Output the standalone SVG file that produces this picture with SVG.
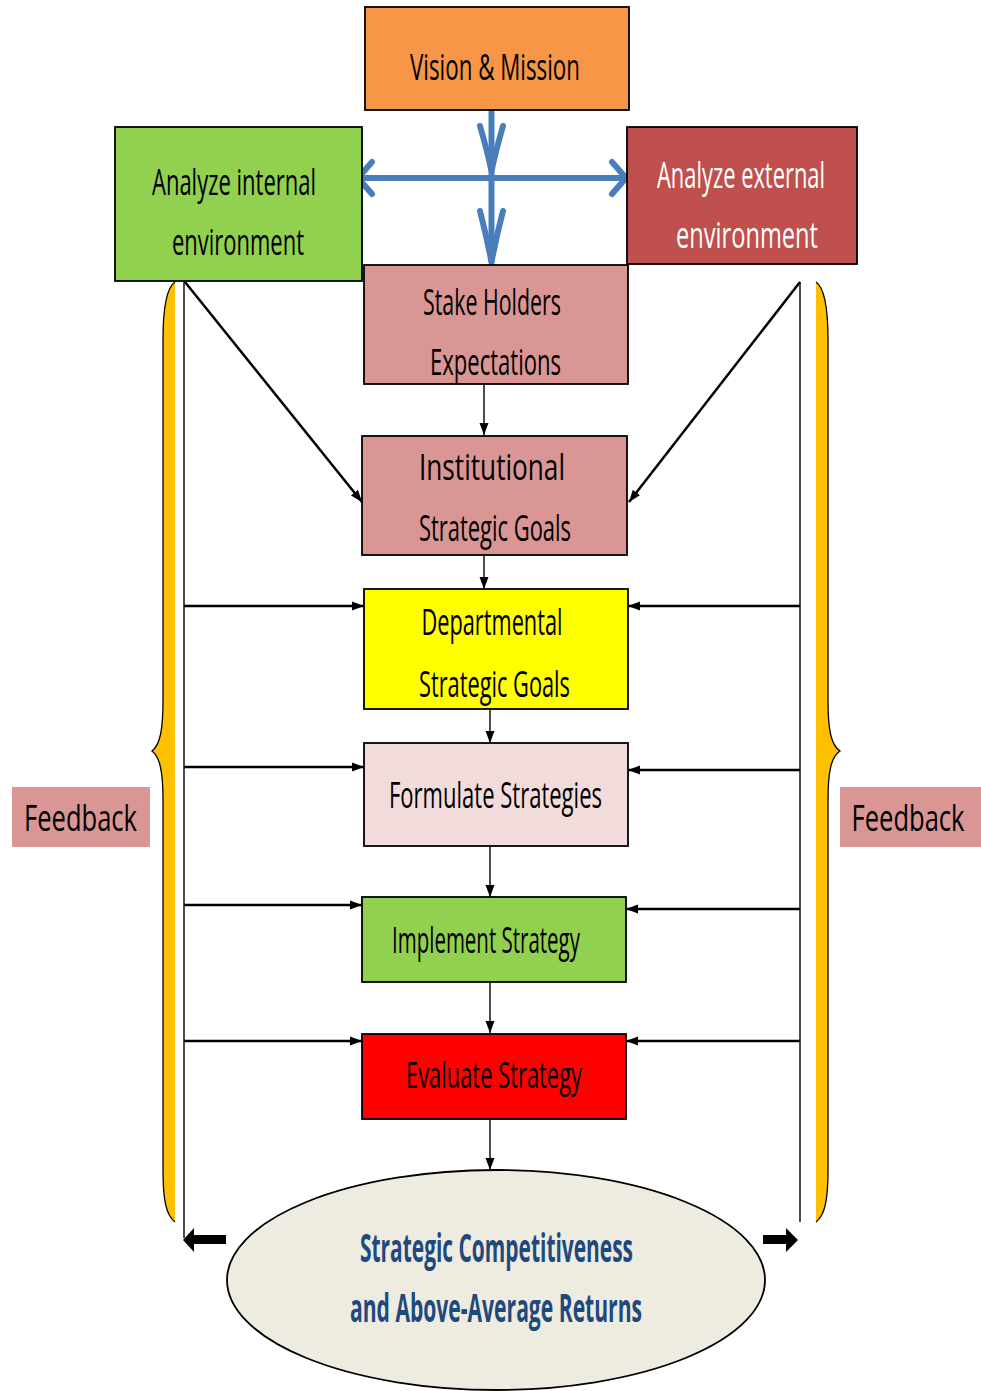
<svg xmlns="http://www.w3.org/2000/svg" width="981" height="1391" viewBox="0 0 981 1391">
<style>
.box{stroke:#000;stroke-width:1.8}
.t{font-family:"Open Sans","Liberation Sans",sans-serif;font-size:37px;fill:#000;text-anchor:middle}
.w{fill:#fff}
.b{font-weight:bold;fill:#1F497D;font-size:40px}
.c{stroke:#000;stroke-width:1.4;fill:none}
.h{stroke:#000;stroke-width:2.5;fill:none}
.blue{stroke:#4A7EBB;stroke-width:6;fill:none;stroke-linecap:round;stroke-linejoin:round}
</style>
<defs>
<marker id="ah" markerUnits="userSpaceOnUse" markerWidth="12" markerHeight="12" viewBox="0 0 12 12" refX="12" refY="6" orient="auto">
<path d="M0,1.5 L12,6 L0,10.5 Z" fill="#000"/>
</marker>
</defs>
<g id="brace-left">
<path d="M175,282 C166,288 163,310 163,340 L163,700 C163,730 160,745 152,751 C160,757 163,772 163,800 L163,1170 C163,1200 166,1215 175,1222 Z" fill="#FFC000"/>
<path d="M175,282 C166,288 163,310 163,340 L163,700 C163,730 160,745 152,751 C160,757 163,772 163,800 L163,1170 C163,1200 166,1215 175,1222" fill="none" stroke="#000" stroke-width="1.3"/>
</g>
<g id="brace-right">
<path d="M816,282 C825,288 828,310 828,340 L828,700 C828,730 831,745 840,751 C831,757 828,772 828,800 L828,1170 C828,1200 825,1215 816,1222 Z" fill="#FFC000"/>
<path d="M816,282 C825,288 828,310 828,340 L828,700 C828,730 831,745 840,751 C831,757 828,772 828,800 L828,1170 C828,1200 825,1215 816,1222" fill="none" stroke="#000" stroke-width="1.3"/>
</g>
<g id="connectors">
<line x1="184" y1="282" x2="184" y2="1238" class="c"/>
<line x1="800" y1="282" x2="800" y2="1222" class="c"/>
<line x1="185" y1="282" x2="362" y2="502" class="h" stroke-width="2" marker-end="url(#ah)"/>
<line x1="800" y1="282" x2="629" y2="502" class="h" stroke-width="2" marker-end="url(#ah)"/>
<line x1="484" y1="384" x2="484" y2="435" class="c" marker-end="url(#ah)"/>
<line x1="484" y1="555" x2="484" y2="589" class="c" marker-end="url(#ah)"/>
<line x1="490" y1="709" x2="490" y2="743" class="c" marker-end="url(#ah)"/>
<line x1="490" y1="846" x2="490" y2="897" class="c" marker-end="url(#ah)"/>
<line x1="490" y1="982" x2="490" y2="1033" class="c" marker-end="url(#ah)"/>
<line x1="490" y1="1119" x2="490" y2="1170" class="c" marker-end="url(#ah)"/>
<line x1="184" y1="606" x2="364" y2="606" class="h" marker-end="url(#ah)"/>
<line x1="184" y1="767" x2="364" y2="767" class="h" marker-end="url(#ah)"/>
<line x1="184" y1="905" x2="362" y2="905" class="h" marker-end="url(#ah)"/>
<line x1="184" y1="1041" x2="362" y2="1041" class="h" marker-end="url(#ah)"/>
<line x1="800" y1="606" x2="628" y2="606" class="h" marker-end="url(#ah)"/>
<line x1="800" y1="770" x2="628" y2="770" class="h" marker-end="url(#ah)"/>
<line x1="800" y1="909" x2="626" y2="909" class="h" marker-end="url(#ah)"/>
<line x1="800" y1="1041" x2="626" y2="1041" class="h" marker-end="url(#ah)"/>
<polygon points="226,1235 194,1235 194,1228 183,1240 194,1252 194,1244 226,1244" fill="#000"/>
<polygon points="763,1235 786,1235 786,1228 798,1240 786,1252 786,1244 763,1244" fill="#000"/>
<line x1="491.5" y1="110" x2="491.5" y2="262" class="blue"/>
<line x1="358" y1="178" x2="626" y2="178" class="blue"/>
<path d="M480,126 Q487,150 491.5,171 Q496,150 503,126" class="blue"/>
<path d="M480,211 Q487,238 491.5,262 Q496,238 503,211" class="blue"/>
<path d="M372,162 L358,178 L372,194" class="blue"/>
<path d="M612,162 L626,178 L612,194" class="blue"/>
</g>
<g id="vision">
<rect x="365" y="7" width="264" height="103" fill="#F79646" class="box"/>
<text x="495" y="80" class="t" font-size="39" textLength="170" lengthAdjust="spacingAndGlyphs">Vision &amp; Mission</text>
</g>
<g id="internal">
<rect x="115" y="127" width="247" height="154" fill="#92D050" class="box"/>
<text x="234" y="195" class="t" font-size="39" textLength="164" lengthAdjust="spacingAndGlyphs">Analyze internal</text>
<text x="238" y="255" class="t" font-size="39" textLength="132" lengthAdjust="spacingAndGlyphs">environment</text>
</g>
<g id="external">
<rect x="627" y="127" width="230" height="137" fill="#C0504D" class="box"/>
<text x="741" y="188" class="t w" font-size="39" textLength="168" lengthAdjust="spacingAndGlyphs">Analyze external</text>
<text x="747" y="248" class="t w" font-size="39" textLength="142" lengthAdjust="spacingAndGlyphs">environment</text>
</g>
<g id="stakeholders">
<rect x="364" y="265" width="264" height="119" fill="#D99694" class="box"/>
<text x="492" y="315" class="t" textLength="138" lengthAdjust="spacingAndGlyphs">Stake Holders</text>
<text x="495.5" y="375" class="t" textLength="131" lengthAdjust="spacingAndGlyphs">Expectations</text>
</g>
<g id="institutional">
<rect x="362" y="436" width="265" height="119" fill="#D99694" class="box"/>
<text x="492" y="480" class="t" font-size="40" textLength="146" lengthAdjust="spacingAndGlyphs">Institutional</text>
<text x="495" y="541" class="t" textLength="152" lengthAdjust="spacingAndGlyphs">Strategic Goals</text>
</g>
<g id="departmental">
<rect x="364" y="589" width="264" height="120" fill="#FFFF00" class="box"/>
<text x="492" y="635" class="t" textLength="141" lengthAdjust="spacingAndGlyphs">Departmental</text>
<text x="494.5" y="697" class="t" textLength="151" lengthAdjust="spacingAndGlyphs">Strategic Goals</text>
</g>
<g id="formulate">
<rect x="364" y="743" width="264" height="103" fill="#F2DCDB" class="box"/>
<text x="495.5" y="808" class="t" textLength="213" lengthAdjust="spacingAndGlyphs">Formulate Strategies</text>
</g>
<g id="implement">
<rect x="362" y="897" width="264" height="85" fill="#92D050" class="box"/>
<text x="486" y="953" class="t" textLength="188" lengthAdjust="spacingAndGlyphs">Implement  Strategy</text>
</g>
<g id="evaluate">
<rect x="362" y="1034" width="264" height="85" fill="#FF0000" class="box"/>
<text x="494" y="1088" class="t" textLength="176" lengthAdjust="spacingAndGlyphs">Evaluate Strategy</text>
</g>
<g id="outcome">
<ellipse cx="496" cy="1280" rx="269" ry="110" fill="#EEECE1" stroke="#000" stroke-width="1.8"/>
<text x="496.5" y="1262" class="t b" textLength="273" lengthAdjust="spacingAndGlyphs">Strategic Competitiveness</text>
<text x="496" y="1322" class="t b" textLength="292" lengthAdjust="spacingAndGlyphs">and Above-Average Returns</text>
</g>
<g id="feedback-left">
<rect x="12" y="787" width="138" height="60" fill="#D99694"/>
<text x="80.5" y="831" class="t" font-size="37" textLength="113" lengthAdjust="spacingAndGlyphs">Feedback</text>
</g>
<g id="feedback-right">
<rect x="840" y="787" width="141" height="60" fill="#D99694"/>
<text x="908" y="831" class="t" font-size="37" textLength="113" lengthAdjust="spacingAndGlyphs">Feedback</text>
</g>
</svg>
